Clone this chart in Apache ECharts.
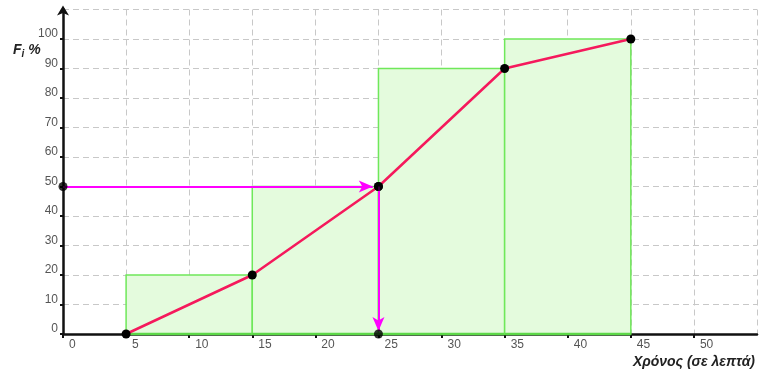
<!DOCTYPE html>
<html><head><meta charset="utf-8">
<script src="https://cdn.jsdelivr.net/npm/echarts@6/dist/echarts.min.js"></script>
<style>html,body{margin:0;padding:0;background:#fff}#c{width:761px;height:374px}</style>
</head><body><div id="c"></div>
<script>
// Data
const classStart = [5, 15, 25, 35];
const classEnd = [15, 25, 35, 45];
const cumFreq = [20, 50, 90, 100];
const ogiveX = [5, 15, 25, 35, 45];
const ogiveY = [0, 20, 50, 90, 100];
const medianY = 50;
const medianX = 25;
const xMin = 0, xMax = 55, xStep = 5;
const yMin = 0, yMax = 110, yStep = 10;
const xTitle = 'Χρόνος (σε λεπτά)';

const rects = classStart.map((s, i) => [s, classEnd[i], cumFreq[i]]);
const ogive = ogiveX.map((x, i) => [x, ogiveY[i]]);

const chart = echarts.init(document.getElementById('c'), null, {renderer: 'canvas'});
const font = '"Liberation Sans", Arial, sans-serif';
chart.setOption({
  animation: false,
  grid: {left: 63, right: 4, top: 9.5, bottom: 40, containLabel: false},
  xAxis: {
    type: 'value', min: xMin, max: xMax, interval: xStep,
    axisLine: {lineStyle: {color: '#111', width: 2.5}},
    axisTick: {show: true, length: 4, lineStyle: {color: '#111', width: 2}},
    axisLabel: {showMaxLabel: false, align: 'left', padding: [0, 0, 0, 6], margin: 5,
      color: '#555', fontSize: 12, fontFamily: font},
    splitLine: {show: true, lineStyle: {color: '#c8c8c8', type: [6, 4], width: 1}}
  },
  yAxis: {
    type: 'value', min: yMin, max: yMax, interval: yStep,
    axisLine: {onZero: false, symbol: ['none', 'arrow'], symbolSize: [9, 10], symbolOffset: [0, 4],
      lineStyle: {color: '#111', width: 2.5}},
    axisTick: {show: true, length: 3, lineStyle: {color: '#111', width: 2}},
    axisLabel: {showMaxLabel: false, verticalAlign: 'bottom', margin: 5, padding: [0, 0, -1, 0],
      color: '#555', fontSize: 12, fontFamily: font},
    splitLine: {show: true, lineStyle: {color: '#c8c8c8', type: [6, 4], width: 1}}
  },
  series: [
    {
      type: 'custom', z: 2,
      data: rects,
      renderItem: function (params, api) {
        const p0 = api.coord([api.value(0), api.value(2)]);
        const p1 = api.coord([api.value(1), 0]);
        return {
          type: 'group',
          children: [
            {type: 'rect',
              shape: {x: p0[0], y: p0[1], width: p1[0] - p0[0], height: p1[1] - p0[1]},
              style: {fill: '#e4fbdd', stroke: '#6fe85a', lineWidth: 1.5}},
            {type: 'line',
              shape: {x1: p0[0], y1: p1[1], x2: p1[0], y2: p1[1]},
              style: {stroke: '#5cd848', lineWidth: 2.5}}
          ]
        };
      },
      encode: {x: [0, 1], y: 2}
    },
    {
      type: 'line', z: 4,
      data: ogive,
      lineStyle: {color: '#f5195c', width: 2.5},
      symbol: 'circle', symbolSize: 9,
      itemStyle: {color: '#000'},
      markLine: {
        silent: true, symbol: ['none', 'arrow'], symbolSize: [9, 14],
        label: {show: false},
        lineStyle: {color: '#ff00ff', width: 2, type: 'solid'},
        data: [
          [{coord: [xMin, medianY]}, {coord: [medianX - 0.45, medianY]}],
          [{coord: [medianX, medianY]}, {coord: [medianX, 1]}]
        ]
      }
    },
    {
      type: 'scatter', z: 5,
      data: [[xMin, medianY], [medianX, medianY], [medianX, 0]],
      symbol: 'circle', symbolSize: 9,
      itemStyle: {color: '#000'}
    }
  ],
  graphic: [
    {type: 'text', left: 13, top: 43, z: 10,
      style: {text: '{f|F}{s|i}{f| %}', rich: {
        f: {fontSize: 14, fontWeight: 'bold', fontStyle: 'italic', fill: '#222', fontFamily: font},
        s: {fontSize: 10, fontWeight: 'bold', fontStyle: 'italic', fill: '#222', fontFamily: font, padding: [8, 0, 0, 0]}
      }}},
    {type: 'text', right: 6, top: 355, z: 10,
      style: {text: xTitle, fontSize: 14, fontWeight: 'bold', fontStyle: 'italic', fill: '#222', fontFamily: font}}
  ]
});
</script></body></html>
